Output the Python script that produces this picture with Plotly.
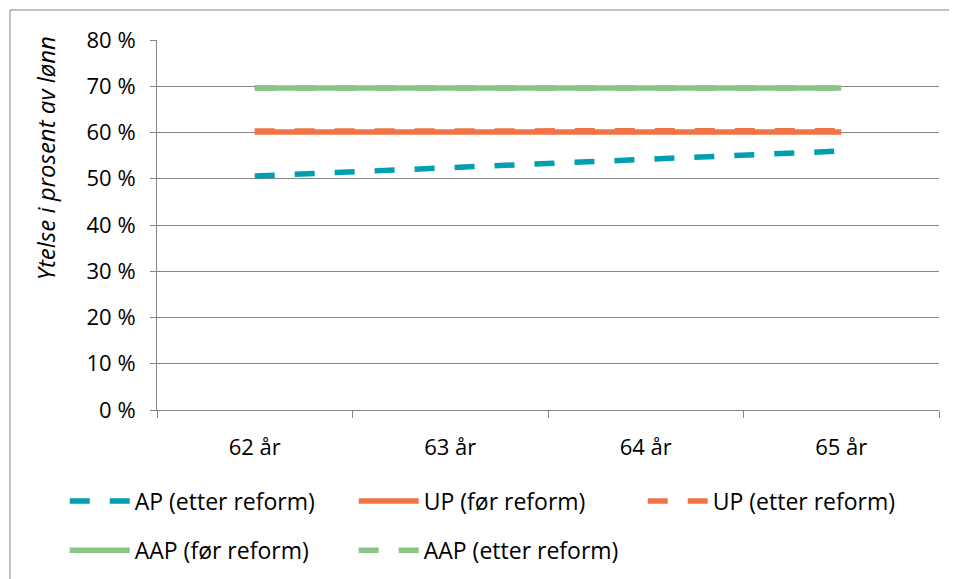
import plotly.graph_objects as go

categories = ["62 år", "63 år", "64 år", "65 år"]
ap_etter = [0.506, 0.523, 0.541, 0.560]
up_for = [0.601, 0.601, 0.601, 0.601]
up_etter = [0.603, 0.603, 0.604, 0.604]
aap_for = [0.696, 0.696, 0.696, 0.696]
aap_etter = [0.696, 0.696, 0.696, 0.696]
y_ticks = [0, 0.1, 0.2, 0.3, 0.4, 0.5, 0.6, 0.7, 0.8]
y_labels = ["0 %", "10 %", "20 %", "30 %", "40 %", "50 %", "60 %", "70 %", "80 %"]

TEAL = "#009FAF"
ORANGE = "#F07445"
GREEN = "#8AC487"
FONT = "Open Sans"
LW = 5.5

fig = go.Figure()
fig.add_trace(go.Scatter(x=categories, y=ap_etter, name="AP (etter reform)", mode="lines",
                         line=dict(color=TEAL, width=LW, dash="20px,20px"), legend="legend"))
fig.add_trace(go.Scatter(x=categories, y=up_for, name="UP (før reform)", mode="lines",
                         line=dict(color=ORANGE, width=LW), legend="legend"))
fig.add_trace(go.Scatter(x=categories, y=up_etter, name="UP (etter reform)", mode="lines",
                         line=dict(color=ORANGE, width=LW, dash="20px,20px"), legend="legend"))
fig.add_trace(go.Scatter(x=categories, y=aap_for, name="AAP (før reform)", mode="lines",
                         line=dict(color=GREEN, width=LW), legend="legend2"))
fig.add_trace(go.Scatter(x=categories, y=aap_etter, name="AAP (etter reform)", mode="lines",
                         line=dict(color=GREEN, width=LW, dash="20px,20px"), legend="legend2"))

legend_common = dict(orientation="h", font=dict(family=FONT, size=23, color="#000000"),
                     itemwidth=60, entrywidth=214, entrywidthmode="pixels",
                     xanchor="left", yanchor="middle", bgcolor="rgba(0,0,0,0)",
                     itemclick=False, itemdoubleclick=False, tracegroupgap=0)

# page has an 8px body margin: figure is 949x571 so plot area lands at 157..939 x 40..410
fig.update_layout(
    width=949, height=571,
    margin=dict(l=149, r=18, t=32, b=169, autoexpand=False),
    paper_bgcolor="white", plot_bgcolor="white",
    font=dict(family=FONT, size=22, color="#000000"),
    showlegend=True,
    legend=dict(x=-0.118, y=-0.246, **legend_common),
    legend2=dict(x=-0.118, y=-0.379, **legend_common),
    xaxis=dict(type="category", range=[-0.5, 3.5], showgrid=False,
               showline=True, linecolor="#868686", linewidth=1,
               ticks="outside", tickson="boundaries", ticklen=7, tickcolor="#868686",
               ticklabelstandoff=18, automargin=False,
               tickfont=dict(family=FONT, size=22), fixedrange=True),
    yaxis=dict(range=[0, 0.8], tickvals=y_ticks, ticktext=y_labels,
               showgrid=True, gridcolor="#868686", gridwidth=1,
               showline=True, linecolor="#868686", linewidth=1,
               ticks="outside", ticklen=6, tickcolor="#868686",
               ticklabelstandoff=10, automargin=False,
               tickfont=dict(family=FONT, size=22), zeroline=False, fixedrange=True),
    annotations=[dict(text="<i>Ytelse i prosent av lønn</i>", xref="paper", yref="paper",
                      x=-0.143, y=0.681, textangle=-90, showarrow=False,
                      font=dict(family=FONT, size=24, color="#000000"),
                      xanchor="center", yanchor="middle")],
    shapes=[dict(type="rect", xref="paper", yref="paper",
                 x0=(10 - 157) / 782, x1=1.2, y0=-1.0, y1=(410 - 10) / 370,
                 line=dict(color="#868686", width=1), fillcolor="rgba(0,0,0,0)", layer="below")],
)

fig.write_html("out.html")
